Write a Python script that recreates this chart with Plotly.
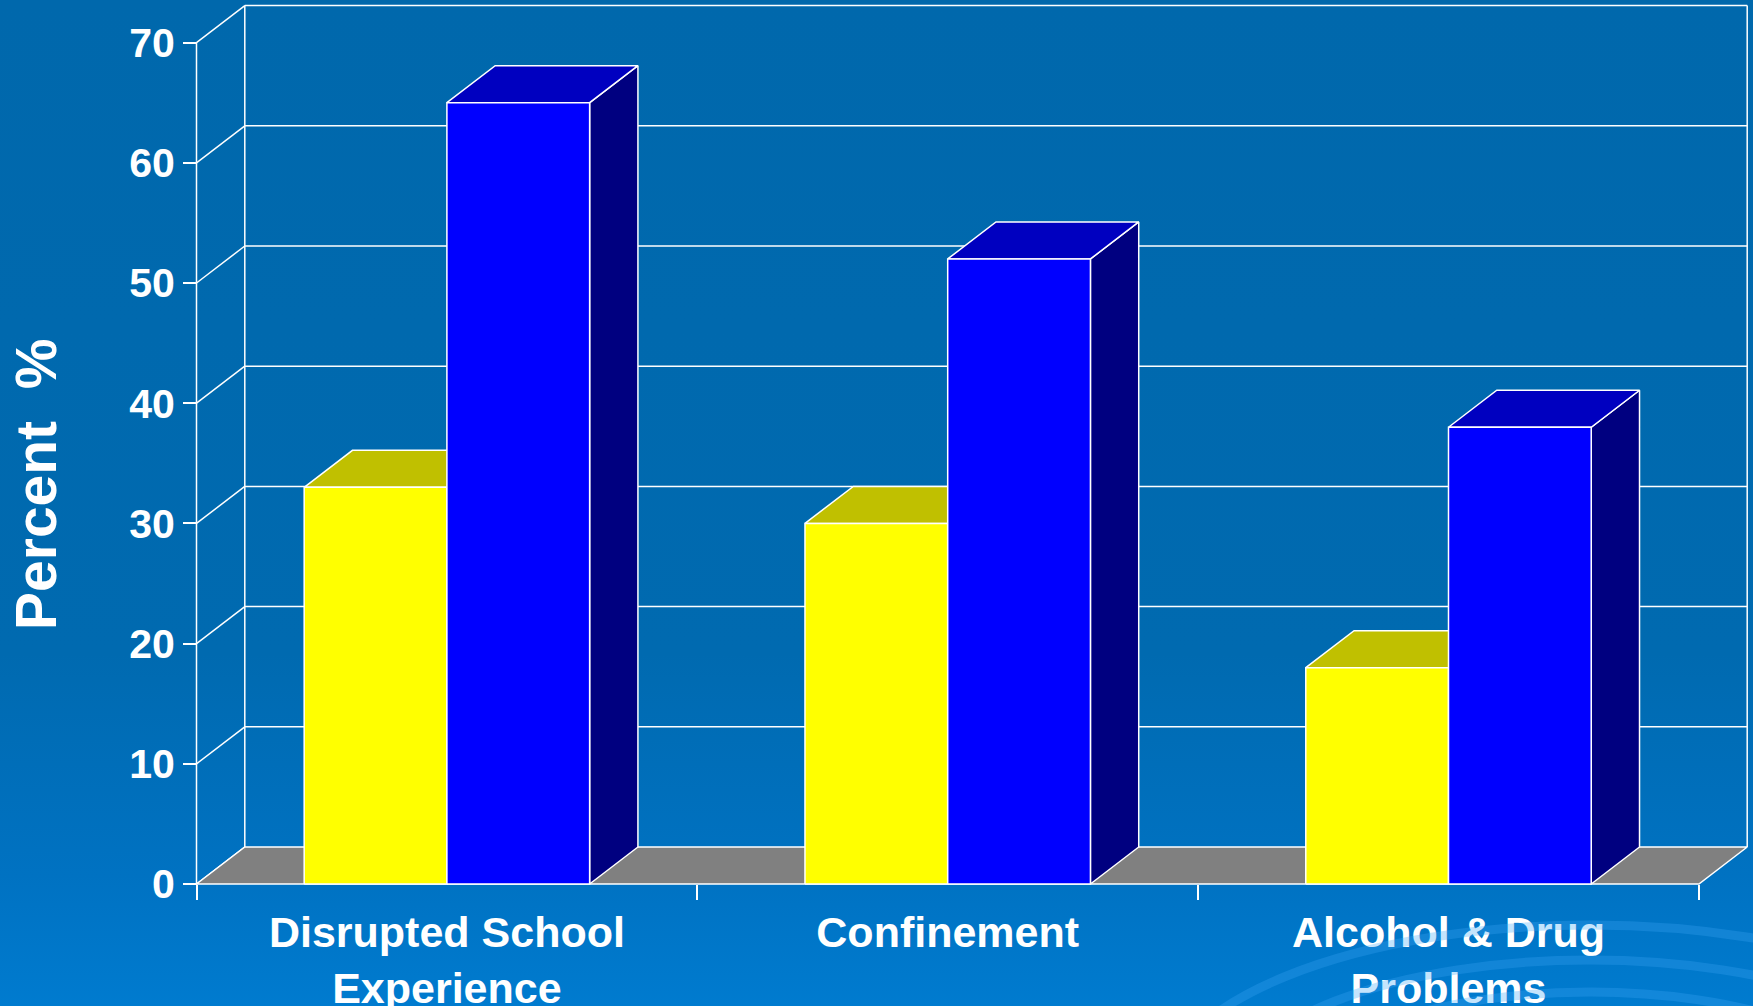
import plotly.graph_objects as go

# ---------------- data ----------------
categories = ["Disrupted School<br>Experience", "Confinement", "Alcohol & Drug<br>Problems"]
series_yellow = [33, 30, 18]
series_blue = [65, 52, 38]
y_ticks = [0, 10, 20, 30, 40, 50, 60, 70]
y_title = "Percent\u00a0\u00a0%"

# ---------------- geometry / style ----------------
W, H = 1753, 1006
AXIS_PX_X = 196.5          # pixel of front value axis
CAT_PX = 500.8             # pixels per category
ZERO_PX_Y = 884.0          # pixel of value 0 on front plane
PX_PER_UNIT = 12.02
x_range = [-AXIS_PX_X / CAT_PX, (W - AXIS_PX_X) / CAT_PX]
y_range = [-(H - ZERO_PX_Y) / PX_PER_UNIT, ZERO_PX_Y / PX_PER_UNIT]

DX = 48.3 / CAT_PX         # depth offset in category units
DY = 37.0 / PX_PER_UNIT    # depth offset in value units
GAP = 0.215
BW = 0.285
YMAX = 70
N = len(categories)

LINE = dict(color="white", width=1.5)
FONT = "Liberation Sans, Arial, Helvetica, sans-serif"

fig = go.Figure()

# background gradient
fig.add_trace(go.Scatter(
    x=[x_range[0], x_range[1], x_range[1], x_range[0], x_range[0]],
    y=[y_range[0], y_range[0], y_range[1], y_range[1], y_range[0]],
    mode="none", fill="toself",
    fillgradient=dict(type="vertical",
                      colorscale=[[0, "#007BCF"], [0.13, "#0072C2"],
                                  [0.35, "#006AB0"], [1, "#0068AC"]]),
    hoverinfo="skip", showlegend=False))


def poly(xs, ys, fill, line=LINE):
    fig.add_trace(go.Scatter(x=xs + [xs[0]], y=ys + [ys[0]], mode="lines",
                             fill="toself", fillcolor=fill, line=line,
                             hoverinfo="skip", showlegend=False))


def lines(segs, line=LINE):
    xs, ys = [], []
    for (xa, ya, xb, yb) in segs:
        xs += [xa, xb, None]
        ys += [ya, yb, None]
    fig.add_trace(go.Scatter(x=xs, y=ys, mode="lines", line=line,
                             hoverinfo="skip", showlegend=False))


# back wall gridlines + edges
segs = []
for v in y_ticks[1:]:
    segs.append((DX, v + DY, N + DX, v + DY))
segs.append((DX, DY, DX, YMAX + DY))
segs.append((N + DX, DY, N + DX, YMAX + DY))
# side wall: front axis and diagonals
segs.append((0, 0, 0, YMAX))
for v in y_ticks:
    segs.append((0, v, DX, v + DY))
lines(segs)

# floor
poly([0, N, N + DX, DX], [0, 0, DY, DY], "#808080")


def bar(x0, x1, h, front, top, side):
    poly([x1, x1 + DX, x1 + DX, x1], [0, DY, h + DY, h], side)
    poly([x0, x1, x1 + DX, x0 + DX], [h, h, h + DY, h + DY], top)
    poly([x0, x1, x1, x0], [0, 0, h, h], front)


for i in range(N):
    bar(i + GAP, i + GAP + BW, series_yellow[i], "#FFFF00", "#C0C000", "#808000")
    bar(i + GAP + BW, i + GAP + 2 * BW, series_blue[i], "#0000FF", "#0000C0", "#000080")

# decorative swirl (bottom right), clipped to the plot area
for (rx, ry) in [(430, 175), (360, 140), (290, 108)]:
    cx, cy = 1590, 1100
    fig.add_shape(type="circle", xref="x", yref="y",
                  x0=(cx - rx - AXIS_PX_X) / CAT_PX, x1=(cx + rx - AXIS_PX_X) / CAT_PX,
                  y0=(ZERO_PX_Y - cy - ry) / PX_PER_UNIT, y1=(ZERO_PX_Y - cy + ry) / PX_PER_UNIT,
                  line=dict(color="rgba(60,165,245,0.30)", width=9), layer="above")

fig.update_layout(
    width=W, height=H,
    margin=dict(l=0, r=0, t=0, b=0, autoexpand=False),
    paper_bgcolor="#0068AC", plot_bgcolor="rgba(0,0,0,0)",
    showlegend=False,
    xaxis=dict(range=x_range, domain=[0, 1], anchor="free",
               position=(H - ZERO_PX_Y) / H, automargin=False,
               tickmode="array", tickvals=[i + 0.5 for i in range(N)],
               ticktext=categories, ticks="", showgrid=False, zeroline=False,
               showline=False, ticklabelstandoff=19,
               tickfont=dict(family=FONT, size=43, color="white", weight="bold"),
               minor=dict(tickmode="array", tickvals=list(range(N + 1)),
                          ticks="outside", ticklen=15, tickwidth=1.5,
                          tickcolor="white", showgrid=False),
               fixedrange=True),
    yaxis=dict(range=y_range, domain=[0, 1], anchor="free",
               position=AXIS_PX_X / W, automargin=False,
               tickmode="array", tickvals=y_ticks,
               ticks="outside", ticklen=13.5, tickwidth=1.5, tickcolor="white",
               showgrid=False, zeroline=False, showline=False,
               ticklabelstandoff=0,
               tickfont=dict(family=FONT, size=41, color="white", weight="bold"),
               fixedrange=True),
    annotations=[dict(text=y_title, textangle=-90, xref="paper", yref="paper",
                      x=36 / W, y=1 - 485 / H, showarrow=False,
                      xanchor="center", yanchor="middle",
                      font=dict(family=FONT, size=57, color="white", weight="bold"))],
)

fig.write_html("out.html")
